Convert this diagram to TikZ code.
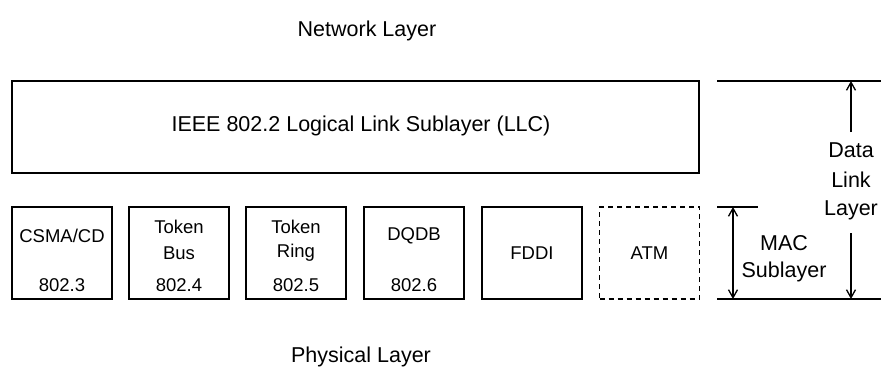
\documentclass[tikz,border=0pt]{standalone}
\usepackage{fontspec}
\setmainfont{Liberation Sans}
\usetikzlibrary{arrows.meta}
\begin{document}
\begin{tikzpicture}[x=1pt,y=-1pt,
  every node/.style={font=\fontsize{21.5}{26}\selectfont, inner sep=0pt},
  small/.style={font=\fontsize{18.5}{22}\selectfont},
  box/.style={draw, line width=1.4pt, minimum width=100pt, minimum height=92pt},
  dbox/.style={box, dash pattern=on 5pt off 4pt},
  rule/.style={line width=1.4pt},
  dim/.style={line width=1.3pt, {Straight Barb[length=8pt,width=9pt]}-{Straight Barb[length=8pt,width=9pt]}},
  dimone/.style={line width=1.3pt, -{Straight Barb[length=8pt,width=9pt]}}]
\useasboundingbox (0,0) rectangle (881,369);

% layer captions
\node (net) at (367,31) {Network Layer};
\node (phy) at (361,357) {Physical Layer};

% LLC sublayer
\node[box, minimum width=687pt] (llc) at (355.5,127) {};
\node (llct) at (361,126) {IEEE 802.2 Logical Link Sublayer (LLC)};

% MAC protocol boxes
\node[box] (b1) at (62,253) {};
\node[box] (b2) at (179,253) {};
\node[box] (b3) at (296,253) {};
\node[box] (b4) at (414,253) {};
\node[box] (b5) at (532,253) {};
\node[dbox] (b6) at (649.5,253) {};

\node[small] (t1a) at (62,236) {CSMA/CD};
\node[small] (t1b) at (62,285) {802.3};
\node[small] (t2a) at (179,227) {Token};
\node[small] (t2b) at (179,253) {Bus};
\node[small] (t2c) at (179,285) {802.4};
\node[small] (t3a) at (296,227) {Token};
\node[small] (t3b) at (296,253) {Ring};
\node[small] (t3c) at (296,285) {802.5};
\node[small] (t4a) at (414,236) {DQDB};
\node[small] (t4b) at (414,285) {802.6};
\node[small] (t5) at (532,253) {FDDI};
\node[small] (t6) at (649.5,253) {ATM};

% dimension lines on the right
\coordinate (dlTopL) at (717,81);
\coordinate (dlTopR) at (881,81);
\coordinate (macTopL) at (717,207);
\coordinate (macTopR) at (758,207);
\coordinate (botL) at (717,299);
\coordinate (botR) at (881,299);
\draw[rule] (dlTopL) -- (dlTopR);
\draw[rule] (macTopL) -- (macTopR);
\draw[rule] (botL) -- (botR);

\coordinate (macA) at (733,207);
\coordinate (macB) at (733,299);
\draw[dim] (macA) -- (macB);
\node (mac1) at (784,243) {MAC};
\node (mac2) at (784,272) {Sublayer};

\node (dl1) at (851,150) {Data};
\node (dl2) at (851,180) {Link};
\node (dl3) at (851,210) {Layer};
\coordinate (dlA) at (851,81);
\coordinate (dlB) at (851,299);
\coordinate (dlC) at (851,132);
\coordinate (dlD) at (851,233);
\draw[dimone] (dlC) -- (dlA);
\draw[dimone] (dlD) -- (dlB);
\end{tikzpicture}
\end{document}
